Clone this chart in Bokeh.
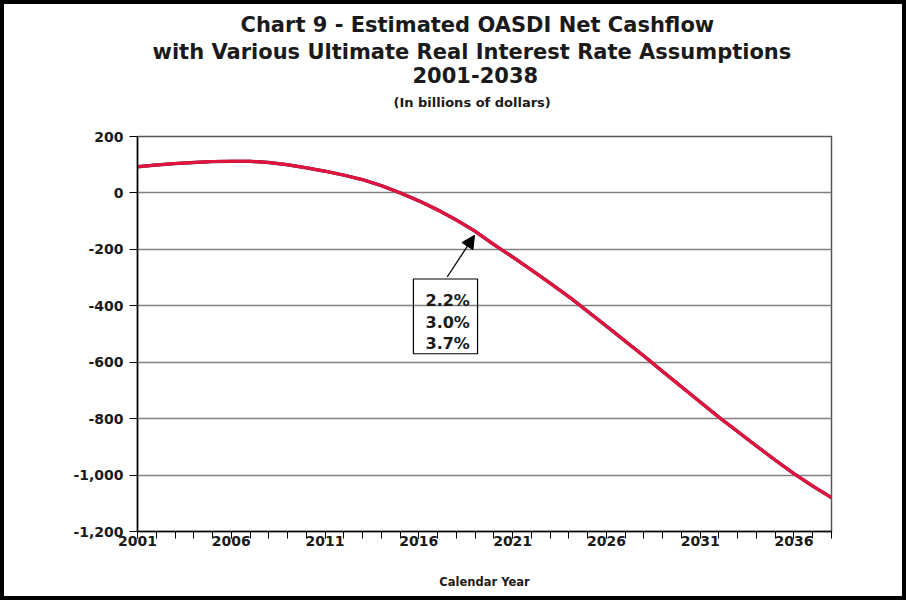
from bokeh.plotting import figure
from bokeh.models import FixedTicker, Label, Arrow, NormalHead, Title
from bokeh.embed import file_html
from bokeh.resources import INLINE

# ---- data ----
years = list(range(2001, 2039))
rate_2_2 = [93, 99, 104, 108, 111, 112, 112, 108, 100, 89, 77, 63, 47, 26, 0,
            -28, -60, -96, -136, -183, -227, -273, -320, -368, -420, -472, -525,
            -578, -633, -687, -741, -795, -846, -897, -947, -995, -1039, -1080]
rate_3_0 = [93, 99, 104, 108, 111, 112, 112, 108, 100, 89, 77, 63, 47, 26, 0,
            -28, -60, -96, -136, -183, -227, -273, -320, -368, -420, -472, -525,
            -578, -633, -687, -741, -795, -846, -897, -947, -995, -1039, -1080]
rate_3_7 = [93, 99, 104, 108, 111, 112, 112, 108, 100, 89, 77, 63, 47, 26, 0,
            -28, -60, -96, -136, -183, -227, -273, -320, -368, -420, -472, -525,
            -578, -633, -687, -741, -795, -846, -897, -947, -995, -1039, -1080]
series_labels = ["2.2%", "3.0%", "3.7%"]
x_ticks = [2001, 2006, 2011, 2016, 2021, 2026, 2031, 2036]
y_ticks = [-1200, -1000, -800, -600, -400, -200, 0, 200]
y_tick_labels = ["-1,200", "-1,000", "-800", "-600", "-400", "-200", "0", "200"]
title_lines = ["Chart 9 - Estimated OASDI Net Cashflow",
               "with Various Ultimate Real Interest Rate Assumptions",
               "2001-2038"]
subtitle = "(In billions of dollars)"
x_label = "Calendar Year"

FONT = "DejaVu Sans"
TXT = "#1a1a1a"

# note: with a CSS border the canvas takes the border-box size (width + 8)
p = figure(width=898, height=592, output_backend="svg", toolbar_location=None,
           x_range=(2001, 2038), y_range=(-1200, 200),
           min_border_left=133, min_border_right=79,
           min_border_top=132, min_border_bottom=73, title=None)
p.styles = {"border": "4px solid black", "box-sizing": "content-box"}
p.background_fill_color = "white"
p.border_fill_color = "white"
p.outline_line_color = "#555555"
p.outline_line_width = 1.5

# grid
p.xgrid.visible = False
p.ygrid.ticker = FixedTicker(ticks=y_ticks)
p.ygrid.grid_line_color = "#808080"
p.ygrid.grid_line_width = 1.5

# axes
xa = p.xaxis[0]
xa.ticker = FixedTicker(ticks=x_ticks, minor_ticks=years)
xa.axis_line_color = "black"
xa.axis_line_width = 1.5
xa.major_tick_in = 0
xa.major_tick_out = 7
xa.minor_tick_in = 0
xa.minor_tick_out = 7
xa.major_tick_line_color = "black"
xa.minor_tick_line_color = "black"
xa.major_label_text_font = FONT
xa.major_label_text_font_style = "bold"
xa.major_label_text_font_size = "14px"
xa.major_label_text_color = TXT
xa.major_label_standoff = -3
xa.axis_label = x_label
xa.axis_label_text_font = FONT
xa.axis_label_text_font_style = "bold"
xa.axis_label_text_font_size = "11.5px"
xa.axis_label_text_color = TXT
xa.axis_label_standoff = 26

ya = p.yaxis[0]
ya.ticker = FixedTicker(ticks=y_ticks)
ya.major_label_overrides = {t: l for t, l in zip(y_ticks, y_tick_labels)}
ya.axis_line_color = "black"
ya.axis_line_width = 1.5
ya.major_tick_in = 0
ya.major_tick_out = 8
ya.minor_tick_line_color = None
ya.major_tick_line_color = "black"
ya.major_label_text_font = FONT
ya.major_label_text_font_style = "bold"
ya.major_label_text_font_size = "14px"
ya.major_label_text_color = TXT
ya.major_label_standoff = 6

# lines (three overlapping series)
p.line(years, rate_3_7, line_color="#3a3a6a", line_width=3.4)
p.line(years, rate_3_0, line_color="#E0143C", line_width=3)
p.line(years, rate_2_2, line_color="#E0143C", line_width=3)

# annotation box + arrow
p.quad(left=[2015.71], right=[2019.13], top=[-305], bottom=[-570],
       fill_alpha=0, line_color="black", line_width=1.2)
for txt, yy in zip(series_labels, [-382, -460, -535]):
    p.add_layout(Label(x=2018.72, y=yy, text=txt, text_align="right",
                       text_baseline="alphabetic", text_font=FONT,
                       text_font_style="bold", text_font_size="16px",
                       text_color=TXT))
p.add_layout(Arrow(end=NormalHead(size=13, fill_color="black", line_color="black"),
                   x_start=2017.51, y_start=-298, x_end=2018.97, y_end=-150,
                   line_color="black", line_width=1.3))

# titles (added nearest-first); first an empty spacer panel
p.add_layout(Title(text=" ", text_font_size="1px", standoff=14), "above")
p.add_layout(Title(text=subtitle, align="left", offset=256, standoff=19,
                   text_font=FONT, text_font_style="bold",
                   text_font_size="13px", text_color=TXT), "above")
for txt, off in zip(reversed(title_lines), [275, 15, 103]):
    p.add_layout(Title(text=txt, align="left", offset=off, standoff=1,
                       text_font=FONT, text_font_style="bold",
                       text_font_size="21px", text_color=TXT), "above")

open("out.html", "w").write(file_html(p, INLINE))
